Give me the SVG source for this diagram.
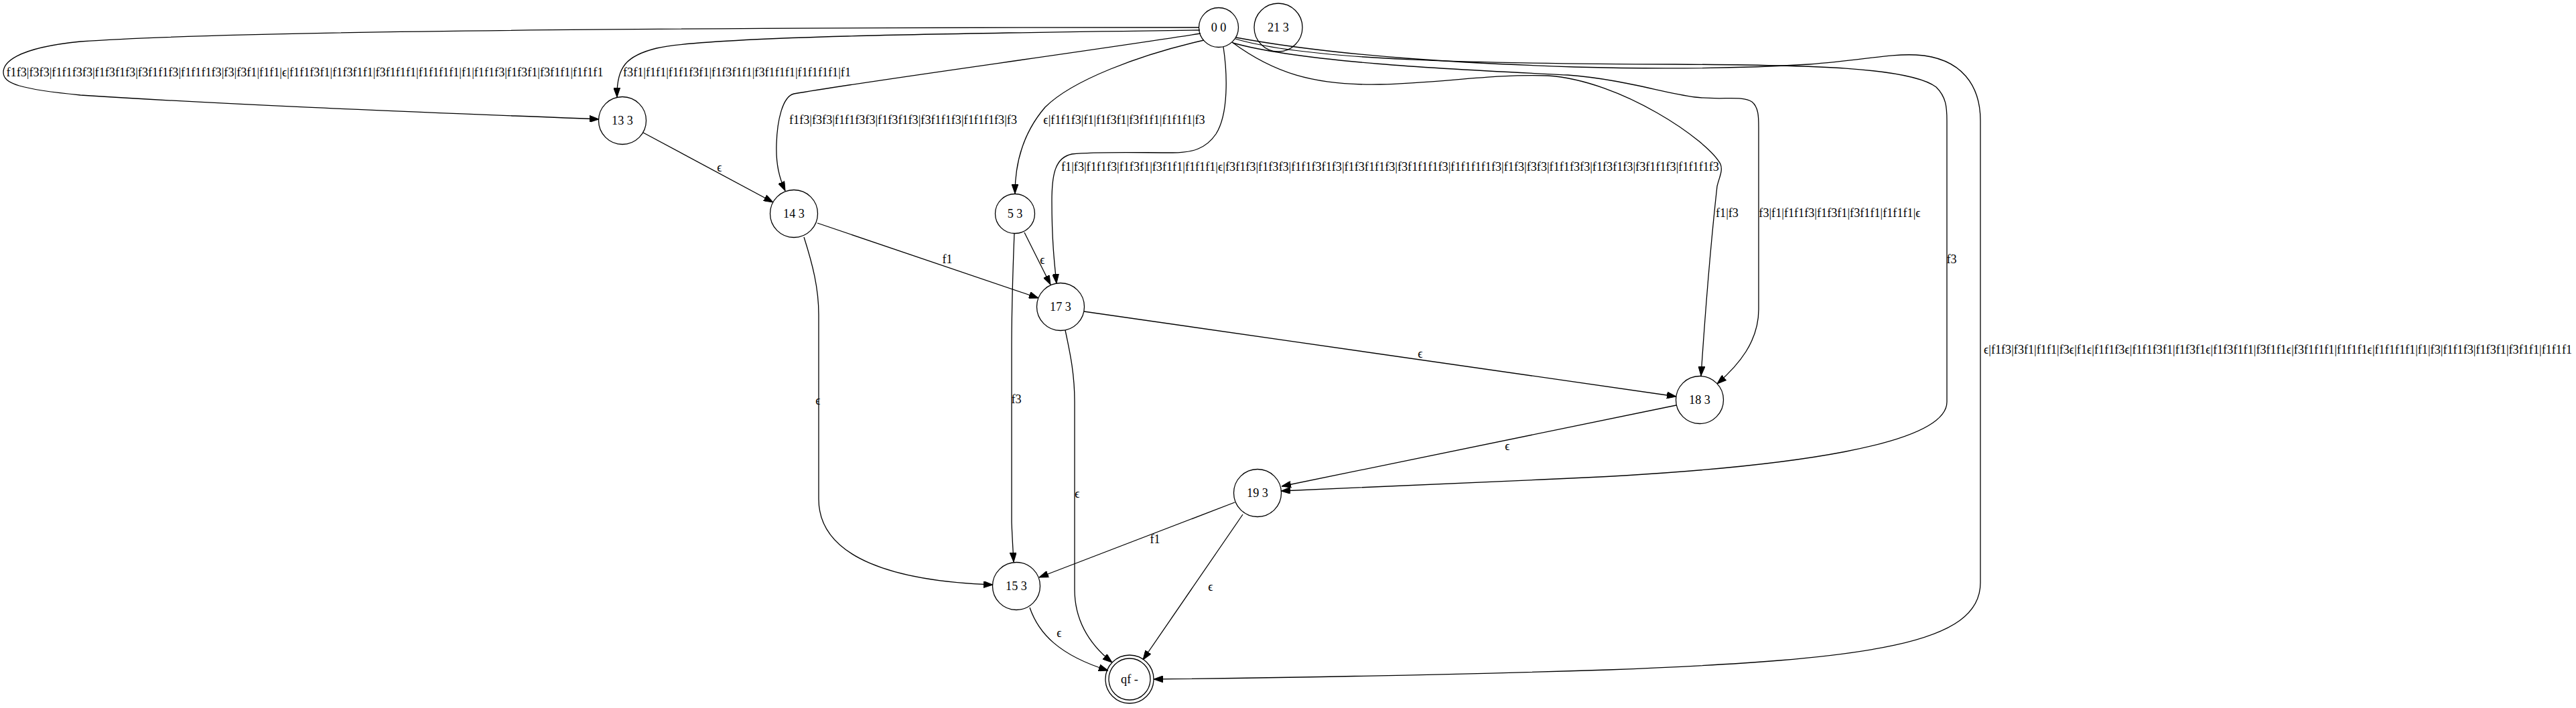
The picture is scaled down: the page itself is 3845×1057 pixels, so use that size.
<svg xmlns="http://www.w3.org/2000/svg" width="3845" height="1057" viewBox="0 0 3845 1057">
<style>
.node ellipse{fill:none;stroke:#000;stroke-width:1.3}
.edge{fill:none;stroke:#000;stroke-width:1.3;marker-end:url(#arr)}
text{font-family:"Liberation Serif","DejaVu Serif",serif;font-size:18.2px;fill:#000;text-anchor:middle}
</style>
<defs>
<marker id="arr" viewBox="0 0 14 10" markerWidth="14" markerHeight="10" markerUnits="userSpaceOnUse" refX="14" refY="5" orient="auto">
<path d="M0,0 L14,5 L0,10 z" fill="#000" stroke="#000" stroke-width="1"/>
</marker>
</defs>
<rect width="3845" height="1057" fill="#fff"/>
<g id="edges">
<path class="edge" d="M1790,41 C1400,41 400,42 120,62 C20,72 5,95 5,108 C5,125 30,133 120,142 C400,160 700,170 894,178"/>
<path class="edge" d="M1791,45 C1400,50 1050,55 980,72 C935,83 920,100 921,145"/>
<path class="edge" d="M1792,50 C1600,80 1300,120 1185,140 C1168,144 1160,180 1159,215 C1158,245 1163,265 1172,285"/>
<path class="edge" d="M1797,60 C1700,82 1600,120 1560,160 C1530,195 1515,240 1515,289"/>
<path class="edge" d="M1826,70 C1832,110 1834,170 1815,200 C1800,222 1780,228 1750,228 C1700,228 1640,226 1600,230 C1575,235 1570,260 1570,300 C1570,360 1574,395 1577,423"/>
<path class="edge" d="M1839,63 C1900,108 1960,128 2060,126 C2150,124 2230,110 2310,113 C2420,120 2550,210 2568,245 C2572,255 2566,265 2563,278 C2555,350 2545,470 2539,561"/>
<path class="edge" d="M1840,64 C1950,95 2200,105 2340,112 C2420,118 2480,138 2530,145 C2570,150 2600,142 2615,152 C2625,160 2625,175 2625,190 L2625,462 C2625,510 2595,545 2563,573"/>
<path class="edge" d="M1844,58 C1950,90 2200,95 2500,96 C2700,97 2850,100 2890,130 C2905,145 2906,160 2906,180 L2906,600 C2906,660 2700,700 2300,716 C2100,724 1980,730 1912,733"/>
<path class="edge" d="M1845,56 C2000,85 2200,95 2350,100 C2500,104 2600,102 2700,96 C2780,90 2820,80 2860,82 C2930,86 2956,130 2956,180 L2956,870 C2956,960 2800,985 2400,1000 C2150,1008 1900,1012 1722,1014"/>
<path class="edge" d="M960,198 L1154,302"/>
<path class="edge" d="M1220,333 L1550,445"/>
<path class="edge" d="M1200,354 C1213,395 1222,430 1222,470 L1222,745 C1222,835 1340,868 1482,873"/>
<path class="edge" d="M1529,347 L1568,425"/>
<path class="edge" d="M1514,348 C1512,400 1510,450 1510,520 L1510,780 C1511,805 1512,820 1513,839"/>
<path class="edge" d="M1618,465 L2502,592"/>
<path class="edge" d="M1590,493 C1598,530 1604,560 1604,600 L1604,880 C1604,930 1630,965 1660,989"/>
<path class="edge" d="M2502,605 L1913,726"/>
<path class="edge" d="M1843,750 L1551,862"/>
<path class="edge" d="M1855,768 L1706,985"/>
<path class="edge" d="M1537,907 C1550,945 1580,978 1654,1001"/>
</g>
<g id="edge-labels">
<text x="455" y="114">f1f3|f3f3|f1f1f3f3|f1f3f1f3|f3f1f1f3|f1f1f1f3|f3|f3f1|f1f1|ϵ|f1f1f3f1|f1f3f1f1|f3f1f1f1|f1f1f1f1|f1|f1f1f3|f1f3f1|f3f1f1|f1f1f1</text>
<text x="1100" y="114">f3f1|f1f1|f1f1f3f1|f1f3f1f1|f3f1f1f1|f1f1f1f1|f1</text>
<text x="1348" y="185">f1f3|f3f3|f1f1f3f3|f1f3f1f3|f3f1f1f3|f1f1f1f3|f3</text>
<text x="1678" y="185">ϵ|f1f1f3|f1|f1f3f1|f3f1f1|f1f1f1|f3</text>
<text x="2075" y="255">f1|f3|f1f1f3|f1f3f1|f3f1f1|f1f1f1|ϵ|f3f1f3|f1f3f3|f1f1f3f1f3|f1f3f1f1f3|f3f1f1f1f3|f1f1f1f1f3|f1f3|f3f3|f1f1f3f3|f1f3f1f3|f3f1f1f3|f1f1f1f3</text>
<text x="2578" y="324">f1|f3</text>
<text x="2746" y="324">f3|f1|f1f1f3|f1f3f1|f3f1f1|f1f1f1|ϵ</text>
<text x="2913" y="393">f3</text>
<text x="3400" y="528">ϵ|f1f3|f3f1|f1f1|f3ϵ|f1ϵ|f1f1f3ϵ|f1f1f3f1|f1f3f1ϵ|f1f3f1f1|f3f1f1ϵ|f3f1f1f1|f1f1f1ϵ|f1f1f1f1|f1|f3|f1f1f3|f1f3f1|f3f1f1|f1f1f1</text>
<text x="1074" y="256">ϵ</text>
<text x="1414" y="393">f1</text>
<text x="1221" y="604">ϵ</text>
<text x="1556" y="394">ϵ</text>
<text x="1517" y="602">f3</text>
<text x="2120" y="534">ϵ</text>
<text x="1608" y="743">ϵ</text>
<text x="2250" y="672">ϵ</text>
<text x="1724" y="811">f1</text>
<text x="1807" y="882">ϵ</text>
<text x="1581" y="951">ϵ</text>
</g>
<g id="n0" class="node"><ellipse cx="1819" cy="41" rx="29.5" ry="29.5"/><text x="1819" y="47">0 0</text></g>
<g id="n21" class="node"><ellipse cx="1908" cy="41" rx="36" ry="36"/><text x="1908" y="47">21 3</text></g>
<g id="n13" class="node"><ellipse cx="929" cy="180" rx="35.5" ry="35.5"/><text x="929" y="186">13 3</text></g>
<g id="n14" class="node"><ellipse cx="1185" cy="319" rx="35.5" ry="35.5"/><text x="1185" y="325">14 3</text></g>
<g id="n5" class="node"><ellipse cx="1515" cy="319" rx="29.5" ry="29.5"/><text x="1515" y="325">5 3</text></g>
<g id="n17" class="node"><ellipse cx="1583" cy="458" rx="35.5" ry="35.5"/><text x="1583" y="464">17 3</text></g>
<g id="n18" class="node"><ellipse cx="2537" cy="597" rx="35.5" ry="35.5"/><text x="2537" y="603">18 3</text></g>
<g id="n19" class="node"><ellipse cx="1877" cy="736" rx="35.5" ry="35.5"/><text x="1877" y="742">19 3</text></g>
<g id="n15" class="node"><ellipse cx="1517" cy="875" rx="35.5" ry="35.5"/><text x="1517" y="881">15 3</text></g>
<g id="qf" class="node"><ellipse cx="1686" cy="1014" rx="31" ry="31"/><ellipse cx="1686" cy="1014" rx="36" ry="36"/><text x="1686" y="1020">qf -</text></g>
</svg>
